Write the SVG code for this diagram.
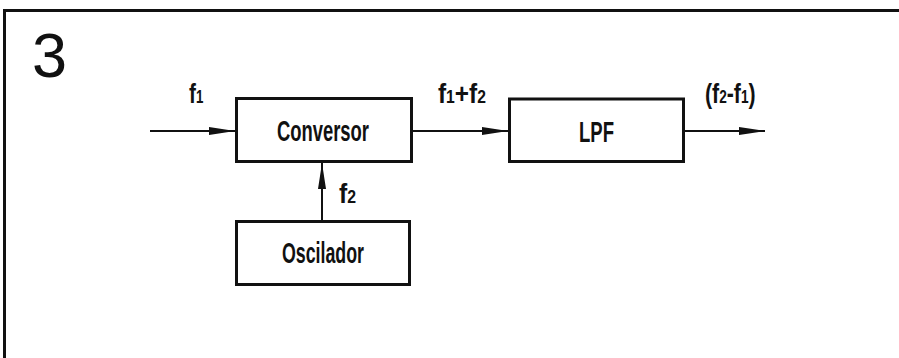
<svg xmlns="http://www.w3.org/2000/svg" width="899" height="358" viewBox="0 0 899 358">
  <style>
    .box { fill: #fff; stroke: #111; stroke-width: 3; }
    .lbl { font-family: "Liberation Sans", Arial, sans-serif; font-weight: bold; font-size: 29px; fill: #111; }
    .sig { font-family: "Liberation Sans", Arial, sans-serif; font-weight: bold; font-size: 28px; fill: #111; }
    .sub { font-size: 18px; }
    .wire { fill: none; stroke: #111; stroke-width: 2; }
  </style>
  <defs>
    <marker id="arr" markerUnits="userSpaceOnUse" markerWidth="27" markerHeight="10" refX="26" refY="5" orient="auto">
      <path d="M0,1 L26,5 L0,9 Z" fill="#111"/>
    </marker>
  </defs>
  <rect width="899" height="358" fill="#fff"/>
  <g id="frame">
    <path d="M4.5,358 V10.5 H899" fill="none" stroke="#111" stroke-width="3"/>
    <text x="32" y="77" font-family="Liberation Sans, Arial, sans-serif" font-size="63" fill="#111">3</text>
  </g>
  <g id="connectors">
    <line class="wire" x1="150" y1="131" x2="235" y2="131" marker-end="url(#arr)"/>
    <line class="wire" x1="413" y1="131" x2="508" y2="131" marker-end="url(#arr)"/>
    <line class="wire" x1="685" y1="131" x2="765" y2="131" marker-end="url(#arr)"/>
    <line class="wire" x1="322" y1="220" x2="322" y2="163" marker-end="url(#arr)"/>
    <text class="sig" transform="translate(189,103) scale(0.74,1)">f<tspan class="sub">1</tspan></text>
    <text class="sig" transform="translate(438,103) scale(0.87,1)">f<tspan class="sub">1</tspan>+f<tspan class="sub">2</tspan></text>
    <text class="sig" transform="translate(705,103) scale(0.76,1)">(f<tspan class="sub">2</tspan>-f<tspan class="sub">1</tspan>)</text>
    <text class="sig" transform="translate(339,203) scale(0.88,1)">f<tspan class="sub">2</tspan></text>
  </g>
  <g id="conversor">
    <rect class="box" x="236.5" y="98.5" width="175" height="63"/>
    <text class="lbl" x="277" y="141" textLength="92" lengthAdjust="spacingAndGlyphs">Conversor</text>
  </g>
  <g id="lpf">
    <rect class="box" x="509.5" y="99" width="174" height="62.5"/>
    <text class="lbl" x="579" y="142" textLength="35" lengthAdjust="spacingAndGlyphs">LPF</text>
  </g>
  <g id="oscilador">
    <rect class="box" x="236.5" y="221.5" width="173" height="63"/>
    <text class="lbl" x="282" y="263" textLength="82" lengthAdjust="spacingAndGlyphs">Oscilador</text>
  </g>
</svg>
